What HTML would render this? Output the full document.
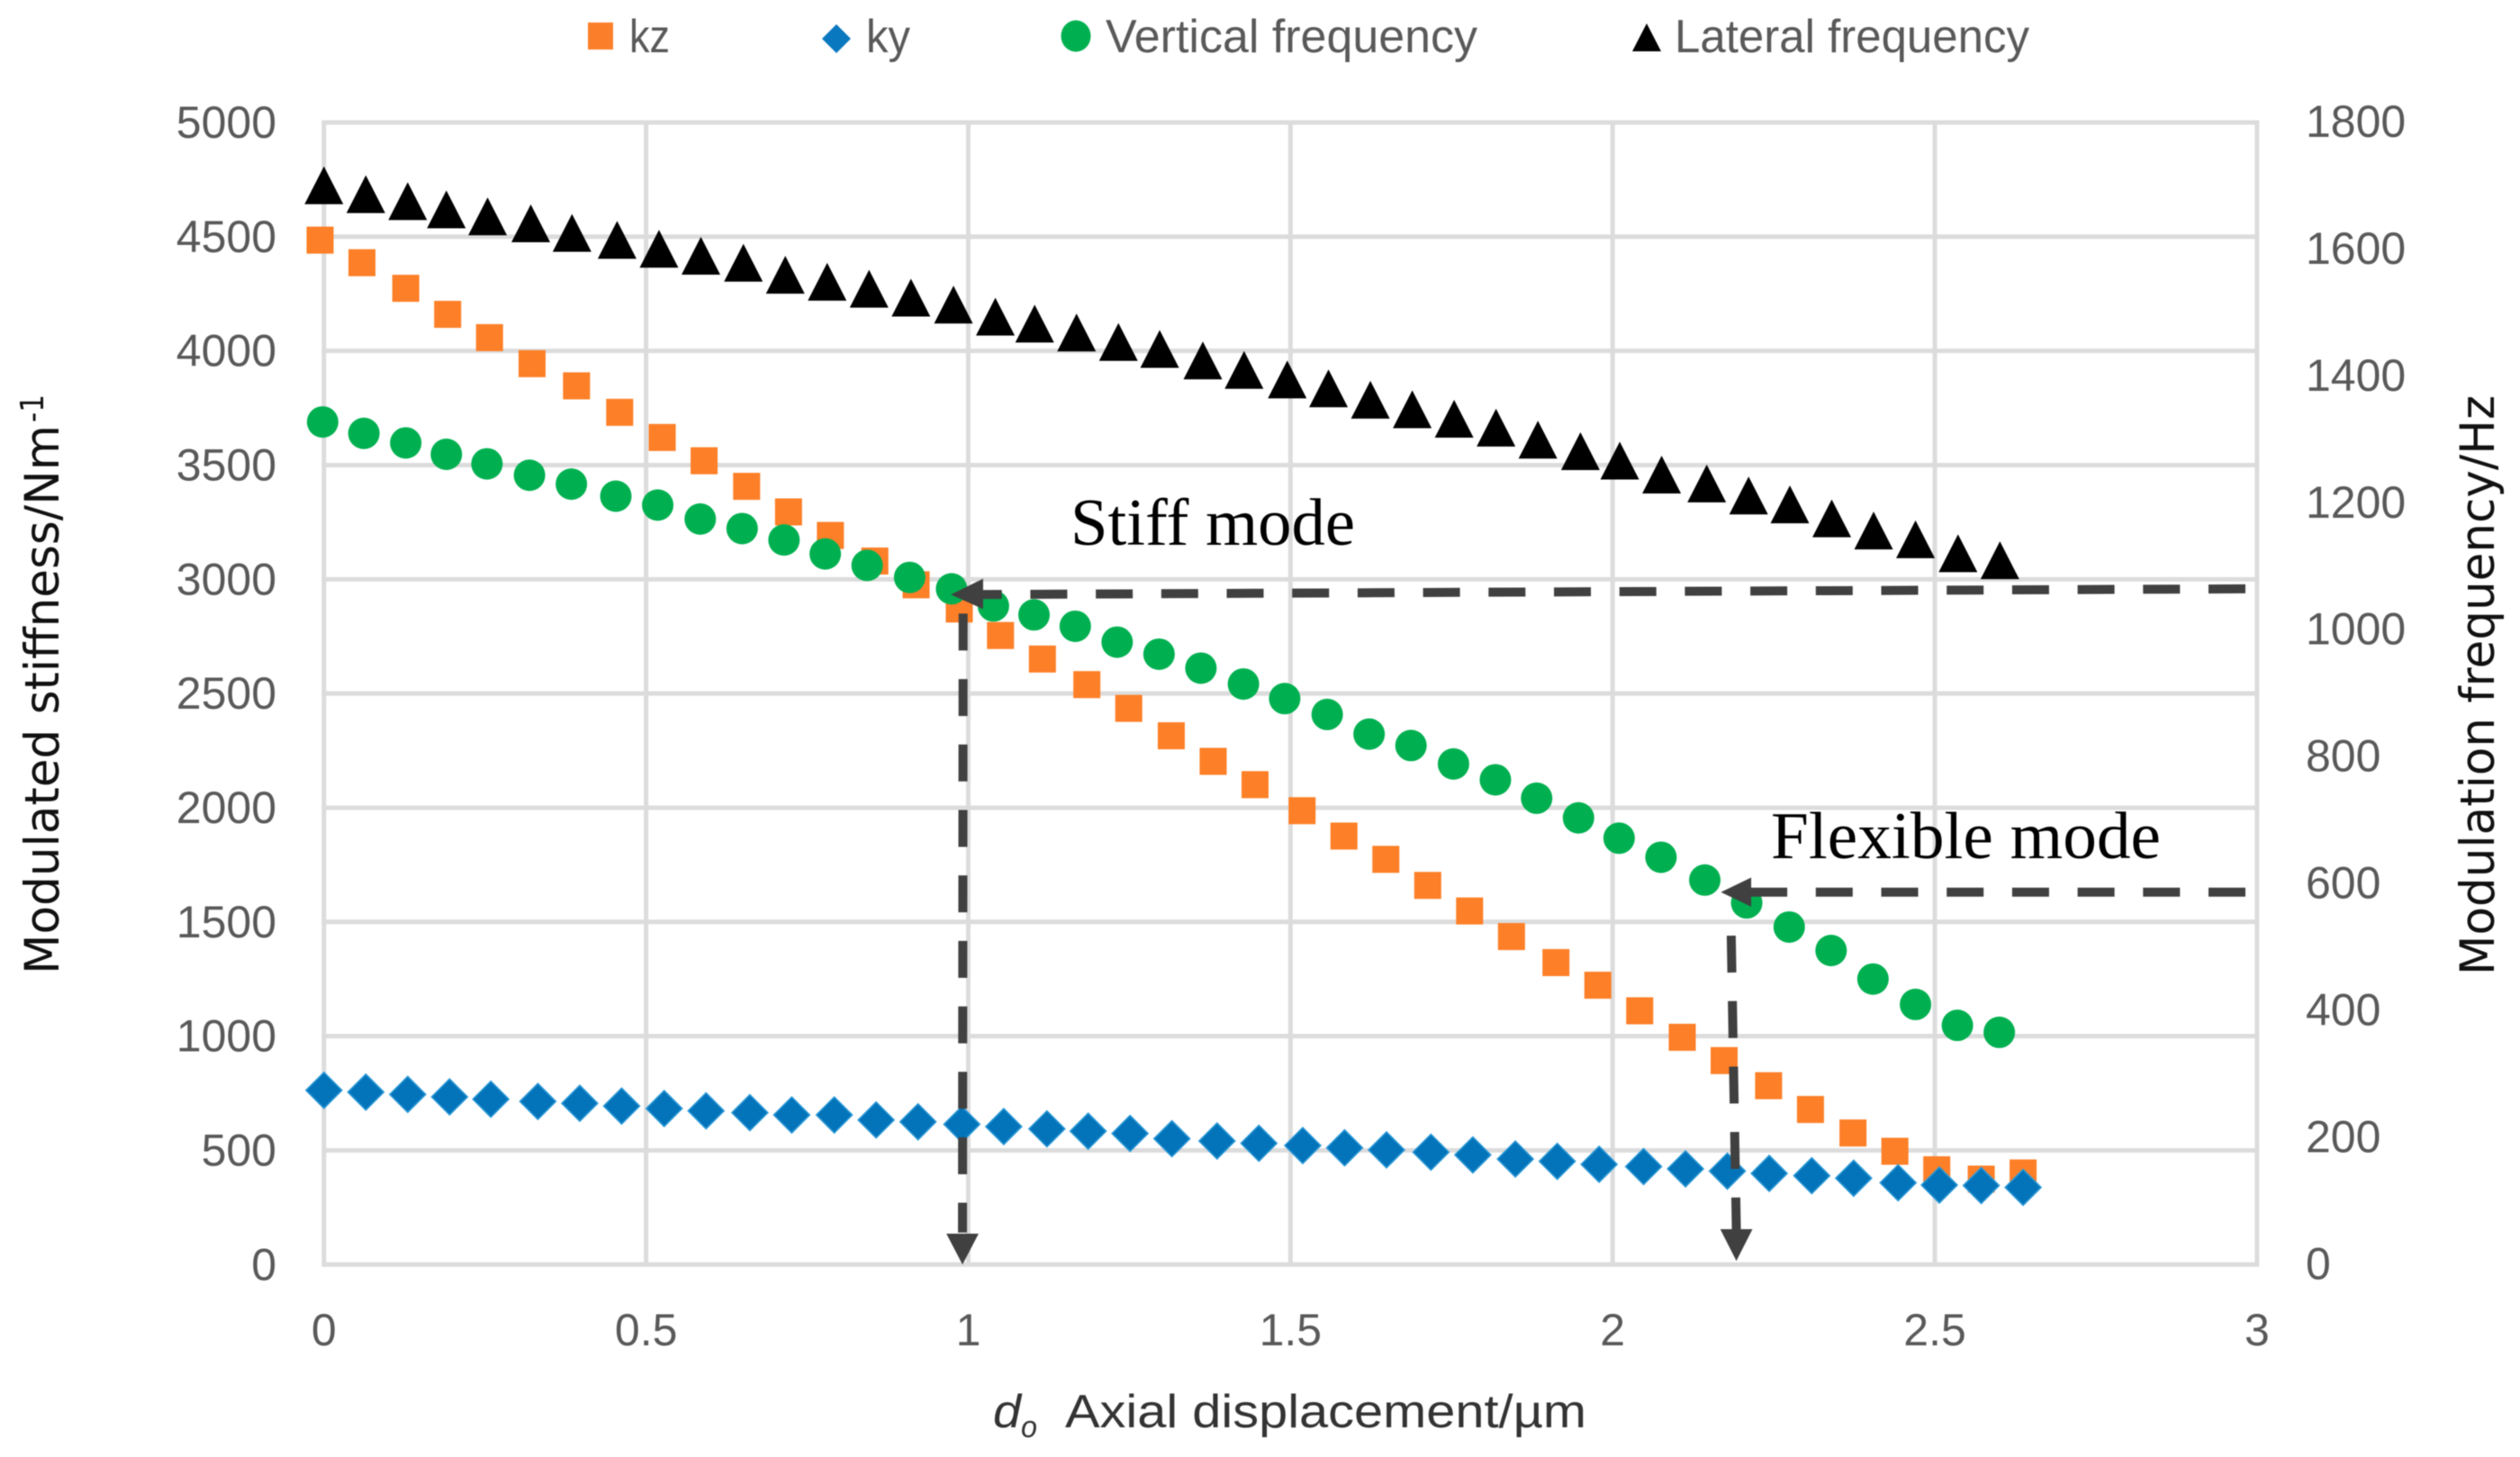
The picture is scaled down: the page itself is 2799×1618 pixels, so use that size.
<!DOCTYPE html>
<html>
<head>
<meta charset="utf-8">
<title>Modulated stiffness and frequency vs axial displacement</title>
<style>
html,body{margin:0;padding:0;background:#fff;}
svg{display:block;filter:blur(0.6px);}
.tick{font-family:"Liberation Sans",sans-serif;font-size:50px;fill:#595959;}
.legend-text{font-family:"Liberation Sans",sans-serif;font-size:52px;fill:#595959;}
.axis-title{font-family:"DejaVu Sans",sans-serif;font-size:53px;fill:#111;}
.x-title{font-family:"Liberation Sans",sans-serif;font-size:52px;fill:#333;}
.note{font-family:"Liberation Serif",serif;font-size:74px;fill:#000;}
</style>
</head>
<body>
<svg id="chart" xmlns="http://www.w3.org/2000/svg" width="2799" height="1618" viewBox="0 0 2799 1618">
  <rect x="0" y="0" width="2799" height="1618" fill="#fff"/>
  <g id="grid"></g>
  <g id="ticks"></g>
  <g id="marks"></g>
  <g id="notes"></g>

  <g>
    <rect x="653" y="25" width="28" height="30" fill="#fb7f2a"/>
    <text class="legend-text" x="699" y="58" textLength="45" lengthAdjust="spacingAndGlyphs">kz</text>
    <polygon points="929,27 945,43 929,59 913,43" fill="#0a78bf"/>
    <text class="legend-text" x="962" y="58" textLength="49" lengthAdjust="spacingAndGlyphs">ky</text>
    <ellipse cx="1195" cy="40" rx="16.5" ry="17.5" fill="#00b050"/>
    <text class="legend-text" x="1228" y="58" textLength="413" lengthAdjust="spacingAndGlyphs">Vertical frequency</text>
    <polygon points="1829,26 1845,57 1813,57" fill="#000"/>
    <text class="legend-text" x="1860" y="58" textLength="394" lengthAdjust="spacingAndGlyphs">Lateral frequency</text>
  </g>

  <text class="axis-title" transform="translate(65,1082) rotate(-90)" textLength="610" lengthAdjust="spacingAndGlyphs">Modulated stiffness/Nm</text>
  <text class="axis-title" style="font-size:36px" transform="translate(48,469) rotate(-90)" textLength="31" lengthAdjust="spacingAndGlyphs">-1</text>
  <text class="axis-title" transform="translate(2770,1083) rotate(-90)" textLength="644" lengthAdjust="spacingAndGlyphs">Modulation frequency/Hz</text>

  <text class="x-title" x="1103" y="1585" font-style="italic" textLength="31" lengthAdjust="spacingAndGlyphs">d</text>
  <text class="x-title" x="1134" y="1596" font-style="italic" style="font-size:34px" textLength="18" lengthAdjust="spacingAndGlyphs">o</text>
  <text class="x-title" x="1183" y="1585" textLength="579" lengthAdjust="spacingAndGlyphs">Axial displacement/µm</text>

  <text class="note" x="1189" y="605" textLength="316" lengthAdjust="spacingAndGlyphs">Stiff mode</text>
  <text class="note" x="1967" y="953" textLength="433" lengthAdjust="spacingAndGlyphs">Flexible mode</text>
</svg>

<script>
// Axis ticks
const xTicks = [0, 0.5, 1, 1.5, 2, 2.5, 3];
const stiffnessTicks = [0, 500, 1000, 1500, 2000, 2500, 3000, 3500, 4000, 4500, 5000];
const frequencyTicks = [0, 200, 400, 600, 800, 1000, 1200, 1400, 1600, 1800];

// kz (left axis)
const kzX = [-0.006,0.059,0.127,0.192,0.257,0.323,0.392,0.459,0.525,0.590,0.656,0.721,0.786,0.855,0.919,0.986,1.050,1.115,1.184,1.249,1.315,1.380,1.445,1.518,1.583,1.648,1.713,1.778,1.843,1.912,1.977,2.042,2.108,2.173,2.242,2.307,2.373,2.438,2.503,2.572,2.637];
const kzValues = [4485,4386,4274,4160,4058,3944,3847,3731,3621,3519,3407,3295,3192,3080,2976,2870,2754,2651,2539,2435,2315,2203,2101,1987,1876,1774,1660,1548,1436,1322,1223,1111,995,893,783,679,576,496,415,374,401];

// ky (left axis)
const kyX = [0,0.065,0.130,0.195,0.259,0.332,0.397,0.462,0.528,0.593,0.661,0.726,0.792,0.857,0.922,0.990,1.055,1.122,1.186,1.251,1.316,1.386,1.451,1.519,1.584,1.649,1.718,1.783,1.849,1.914,1.979,2.048,2.113,2.178,2.243,2.309,2.374,2.443,2.507,2.572,2.637];
const kyValues = [763,755,745,734,724,714,706,694,683,673,665,655,655,633,625,614,604,594,584,574,551,541,531,521,511,502,492,480,462,452,439,429,419,409,399,389,378,358,348,346,338];

// Vertical frequency (right axis)
const verticalX = [-0.002,0.062,0.127,0.190,0.253,0.319,0.384,0.453,0.518,0.584,0.649,0.714,0.778,0.843,0.909,0.974,1.039,1.102,1.166,1.231,1.296,1.361,1.427,1.491,1.557,1.622,1.687,1.753,1.818,1.882,1.947,2.010,2.075,2.143,2.208,2.274,2.339,2.404,2.470,2.535,2.600];
const verticalValues = [1328,1310,1295,1277,1262,1244,1230,1211,1197,1175,1160,1142,1120,1102,1083,1065,1038,1024,1006,981,962,940,915,892,867,836,818,789,764,735,704,672,642,606,570,532,495,450,410,377,366];

// Lateral frequency (right axis)
const lateralX = [0,0.065,0.130,0.190,0.254,0.321,0.385,0.455,0.520,0.585,0.651,0.716,0.781,0.846,0.911,0.977,1.042,1.103,1.168,1.233,1.297,1.364,1.428,1.495,1.559,1.624,1.689,1.754,1.819,1.884,1.950,2.011,2.076,2.146,2.211,2.275,2.340,2.405,2.470,2.536,2.601];
const lateralValues = [1701,1687,1676,1663,1652,1641,1626,1615,1601,1590,1579,1560,1549,1538,1524,1513,1494,1483,1469,1454,1443,1425,1410,1395,1381,1363,1348,1333,1319,1300,1282,1267,1245,1231,1212,1198,1176,1157,1143,1121,1110];

const NS = 'http://www.w3.org/2000/svg';
function xScale(v){ return 359.8 + v * 715.7; }
function yLeft(v){ return 1404.3 - v * 1268.3 / 5000; }
function yRight(v){ return 1404.3 - v * 1268.3 / 1800; }

function make(tag, attrs, parent){
  const el = document.createElementNS(NS, tag);
  for (const k in attrs) el.setAttribute(k, attrs[k]);
  parent.appendChild(el);
  return el;
}

const grid = document.getElementById('grid');
const ticks = document.getElementById('ticks');
const marks = document.getElementById('marks');
const notes = document.getElementById('notes');

// Gridlines and tick labels
stiffnessTicks.forEach(function(t){
  const line = make('line', {x1: xScale(0) - 2.5, x2: xScale(3) + 2.5, y1: yLeft(t), y2: yLeft(t), stroke: '#dcdcdc', 'stroke-width': 5}, grid);
  
  
  const label = make('text', {x: 307, y: yLeft(t) + 17, 'text-anchor': 'end', class: 'tick'}, ticks);
  label.textContent = t;
  
  
});
xTicks.forEach(function(t){
  const line = make('line', {x1: xScale(t), x2: xScale(t), y1: yLeft(5000), y2: yLeft(0), stroke: '#dcdcdc', 'stroke-width': 5}, grid);
  
  
  const label = make('text', {x: xScale(t), y: 1494, 'text-anchor': 'middle', class: 'tick'}, ticks);
  label.textContent = t;
  
  
});
frequencyTicks.forEach(function(t){
  const label = make('text', {x: 2561, y: yRight(t) + 16, 'text-anchor': 'start', class: 'tick'}, ticks);
  label.textContent = t;
  
  
});

// kz squares
kzValues.forEach(function(v, i){
  const cx = xScale(kzX[i]), cy = yLeft(v);
  const m = make('rect', {x: cx - 15, y: cy - 15, width: 30, height: 30, fill: '#fd7f27'}, marks);
  
  
});
// ky diamonds
kyValues.forEach(function(v, i){
  const cx = xScale(kyX[i]), cy = yLeft(v), r = 20;
  const m = make('polygon', {points: cx + ',' + (cy - r) + ' ' + (cx + r) + ',' + cy + ' ' + cx + ',' + (cy + r) + ' ' + (cx - r) + ',' + cy, fill: '#0474ba', stroke: '#2d9ad8', 'stroke-width': 1.5}, marks);
  
  
});
// Vertical frequency circles
verticalValues.forEach(function(v, i){
  const m = make('circle', {cx: xScale(verticalX[i]), cy: yRight(v), r: 17.5, fill: '#00b050'}, marks);
  
  
});
// Lateral frequency triangles
lateralValues.forEach(function(v, i){
  const cx = xScale(lateralX[i]), cy = yRight(v);
  const m = make('polygon', {points: cx + ',' + (cy - 21) + ' ' + (cx + 21.5) + ',' + (cy + 21) + ' ' + (cx - 21.5) + ',' + (cy + 21), fill: '#000'}, marks);
  
  
});

// Annotation leader lines (in data units)
function dashed(name, x1, y1, x2, y2){
  const l = make('line', {x1: x1, y1: y1, x2: x2, y2: y2, stroke: '#404040', 'stroke-width': 10, 'stroke-dasharray': '41 31.7'}, notes);
  
  
}
function head(name, pts){
  const h = make('polygon', {points: pts.map(function(p){ return p[0] + ',' + p[1]; }).join(' '), fill: '#404040'}, notes);
  
  
}
dashed('stiff-mode-horizontal-leader', xScale(2.982), yRight(1065), xScale(1.01), yRight(1056));
head('stiff-mode-horizontal-arrowhead', [[xScale(0.973), yRight(1056)], [xScale(1.023), yRight(1081)], [xScale(1.023), yRight(1033)]]);
dashed('stiff-mode-vertical-leader', xScale(0.992), yLeft(2850), xScale(0.991), yLeft(140));
head('stiff-mode-vertical-arrowhead', [[xScale(0.991), yLeft(0)], [xScale(0.966), yLeft(135)], [xScale(1.016), yLeft(135)]]);
dashed('flexible-mode-horizontal-leader', xScale(2.982), yRight(587), xScale(2.2), yRight(587));
head('flexible-mode-horizontal-arrowhead', [[xScale(2.168), yRight(587)], [xScale(2.215), yRight(610)], [xScale(2.215), yRight(564)]]);
dashed('flexible-mode-vertical-leader', xScale(2.184), yLeft(1440), xScale(2.192), yLeft(150));
head('flexible-mode-vertical-arrowhead', [[xScale(2.192), yLeft(16)], [xScale(2.167), yLeft(155)], [xScale(2.217), yLeft(155)]]);
</script>
</body>
</html>
